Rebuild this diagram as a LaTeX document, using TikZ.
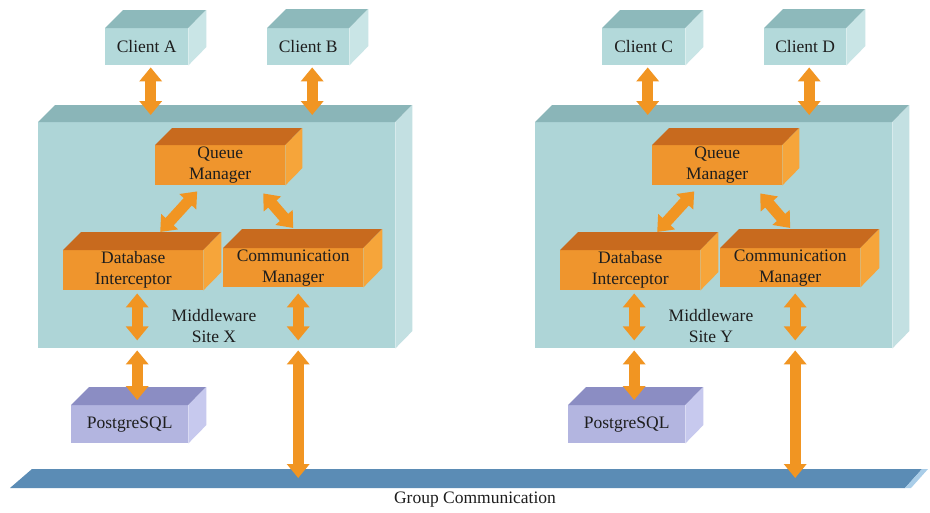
\documentclass[tikz,border=0pt]{standalone}
\usepackage{fontspec}
\setmainfont{Liberation Serif}
\usetikzlibrary{calc,arrows.meta}
\definecolor{clfront}{HTML}{B3D9DA}
\definecolor{cltop}{HTML}{8DB9BB}
\definecolor{clside}{HTML}{C9E5E6}
\definecolor{mwfront}{HTML}{AED5D7}
\definecolor{mwtop}{HTML}{8AB5B8}
\definecolor{mwside}{HTML}{C3E0E2}
\definecolor{orfront}{HTML}{EF952D}
\definecolor{ortop}{HTML}{C86A1E}
\definecolor{orside}{HTML}{F6A53A}
\definecolor{pgfront}{HTML}{B3B5E0}
\definecolor{pgtop}{HTML}{8B8DC3}
\definecolor{pgside}{HTML}{C7C9EE}
\definecolor{barblue}{HTML}{5B8CB5}
\definecolor{barend}{HTML}{A9CDE8}
\definecolor{arrowor}{HTML}{F19522}
\definecolor{txt}{HTML}{1E1E1E}
\tikzset{
  boxtext/.style={font=\fontsize{17.5}{21}\selectfont, text=txt, align=center, inner sep=0pt},
  biarrow/.style={line width=11pt, color=arrowor,
    arrows={Triangle[width=22pt,length=14pt]-Triangle[width=22pt,length=14pt]}}
}
% #1 name #2 x1 #3 y1 #4 x2 #5 y2 #6 depth #7 colour prefix #8 text
\newcommand{\cubebox}[8]{%
  \node[boxtext, fill=#7front, minimum width={(#4-#2)*1pt}, minimum height={(#5-#3)*1pt}, anchor=north west] (#1) at (#2,#3) {#8};
  \fill[#7top] (#1.north west) -- ++(#6,-#6) -- ++({#4-#2},0) -- (#1.north east) -- cycle;
  \fill[#7side] (#1.north east) -- ++(#6,-#6) -- ++(0,{#5-#3}) -- (#1.south east) -- cycle;
}
% #1 suffix #2 xshift #3 client 1 #4 client 2 #5 site letter
\newcommand{\drawsite}[5]{%
  \begin{scope}[xshift=#2pt]
    \cubebox{mw#1}{38}{122}{395}{348}{17}{mw}{}
    \cubebox{ca#1}{105}{28}{188}{65}{18}{cl}{Client #3}
    \cubebox{cb#1}{267}{28}{349}{65}{19}{cl}{Client #4}
    \cubebox{qm#1}{155}{145}{285}{185}{17}{or}{Queue\\Manager}
    \cubebox{di#1}{63}{250}{203}{290}{18}{or}{Database\\Interceptor}
    \cubebox{cm#1}{223}{248}{363}{287}{19}{or}{Communication\\Manager}
    \cubebox{pg#1}{71}{405}{188}{443}{18}{pg}{PostgreSQL}
    \node[boxtext] (lbl#1) at (214,326) {Middleware\\Site #5};
    \draw[biarrow] ($(ca#1.south)+(4,2)$) -- ($(ca#1.south |- mw#1.north)+(4,-7)$);
    \draw[biarrow] ($(cb#1.south)+(4,2)$) -- ($(cb#1.south |- mw#1.north)+(4,-7)$);
    \draw[biarrow] ($(qm#1.south)+(-23,6)$) -- ($(di#1.north)+(27,-18)$);
    \draw[biarrow] ($(qm#1.south)+(43,8)$) -- ($(cm#1.north)+(0,-20)$);
    \draw[biarrow] ($(di#1.south)+(4,3)$) -- ($(di#1.south |- mw#1.south)+(4,-8)$);
    \draw[biarrow] ($(pg#1.north |- mw#1.south)+(7.5,2)$) -- ($(pg#1.north)+(7.5,-5)$);
    \draw[biarrow] ($(cm#1.south)+(5,6)$) -- ($(cm#1.south |- mw#1.south)+(5,-8)$);
    \draw[biarrow] ($(cm#1.south |- mw#1.south)+(5,2)$) -- ($(cm#1.south |- gc)+(5,0)$);
  \end{scope}
}
\begin{document}
\begin{tikzpicture}[x=1pt,y=-1pt]
  \useasboundingbox (0,0) rectangle (930,512);
  \fill[white] (0,0) rectangle (930,512);
  % group communication bus
  \fill[barblue] (10,488) -- (32,469) -- (922,469) -- (905,488) -- cycle;
  \fill[barend] (905,488) -- (922,469) -- (928,469) -- (911,488) -- cycle;
  \coordinate (gc) at (475,478);
  \node[boxtext] (gclabel) at (475,500) {Group Communication};
  \drawsite{X}{0}{A}{B}{X}
  \drawsite{Y}{497}{C}{D}{Y}
\end{tikzpicture}
\end{document}
